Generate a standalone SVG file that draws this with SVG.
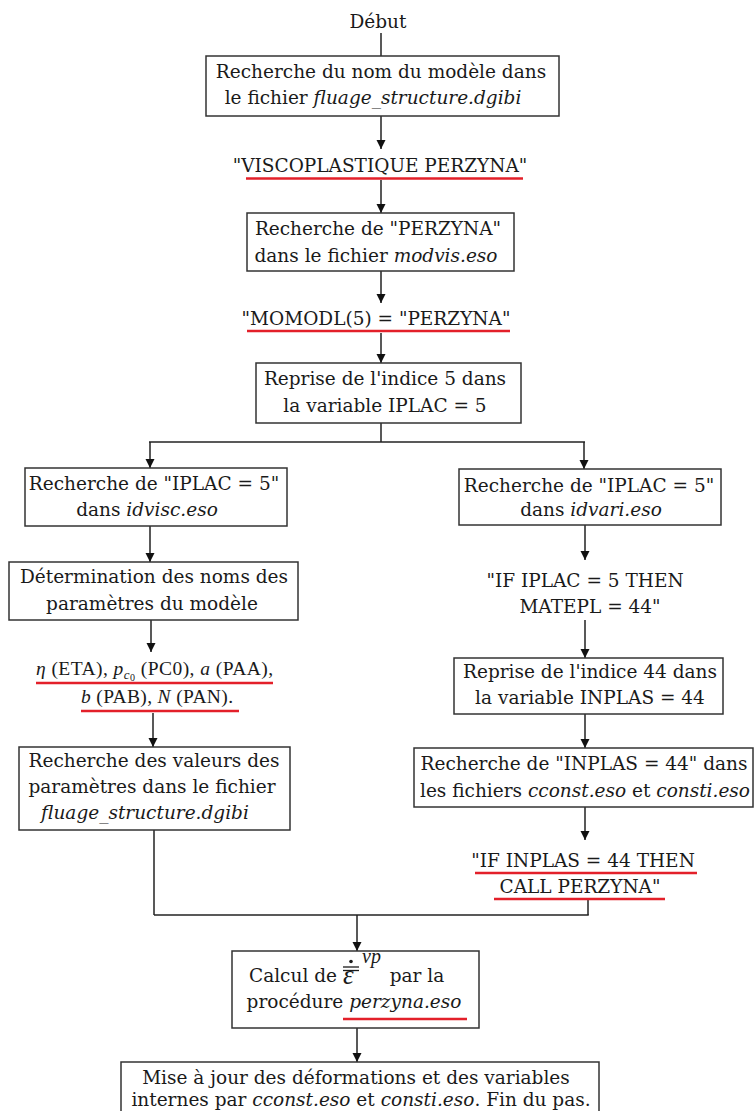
<svg xmlns="http://www.w3.org/2000/svg" width="754" height="1111" viewBox="0 0 754 1111">
<defs>
<marker id="ah" markerUnits="userSpaceOnUse" markerWidth="9" markerHeight="15" refX="9" refY="4.5" orient="auto">
<path d="M0,0 L9,4.5 L0,9 z" fill="#111"/>
</marker>
<style>
.box{fill:#fff;stroke:#333;stroke-width:1.5}
.t{font-family:"DejaVu Serif","Liberation Serif",serif;font-size:18.5px;fill:#1a1a1a;text-anchor:middle}
.i{font-style:italic}
.m{font-family:"Liberation Serif","DejaVu Serif",serif;font-size:19.5px;fill:#1a1a1a}
.c{fill:none;stroke:#222;stroke-width:1.5}
.a{fill:none;stroke:#222;stroke-width:1.5;marker-end:url(#ah)}
.u{stroke:#e3202a;stroke-width:2.5;fill:none}
</style>
</defs>
<rect width="754" height="1111" fill="#fff"/>
<g id="connectors">
<line class="c" x1="381" y1="33" x2="381" y2="56"/>
<line class="a" x1="381" y1="116" x2="381" y2="149"/>
<line class="a" x1="381" y1="180" x2="381" y2="213"/>
<line class="a" x1="381" y1="271" x2="381" y2="303"/>
<line class="a" x1="381" y1="333" x2="381" y2="363"/>
<line class="c" x1="381" y1="423" x2="381" y2="442"/>
<line class="c" x1="149" y1="442" x2="585" y2="442"/>
<line class="a" x1="150" y1="442" x2="150" y2="468"/>
<line class="a" x1="584" y1="442" x2="584" y2="469"/>
<line class="a" x1="150" y1="526" x2="150" y2="562"/>
<line class="a" x1="151" y1="620" x2="151" y2="652"/>
<line class="a" x1="153" y1="713" x2="153" y2="747"/>
<line class="c" x1="154" y1="830" x2="154" y2="915"/>
<line class="a" x1="585" y1="525" x2="585" y2="560"/>
<line class="a" x1="585" y1="620" x2="585" y2="658"/>
<line class="a" x1="585" y1="714" x2="585" y2="748"/>
<line class="a" x1="585" y1="807" x2="585" y2="840"/>
<line class="c" x1="588" y1="900" x2="588" y2="915"/>
<line class="c" x1="154" y1="915" x2="588.75" y2="915"/>
<line class="a" x1="357" y1="915" x2="357" y2="951"/>
<line class="a" x1="357" y1="1028" x2="357" y2="1062"/>
</g>
<g id="debut">
<text class="t" x="378" y="28">Début</text>
</g>
<g id="n1">
<rect class="box" x="206" y="56" width="353" height="60"/>
<text class="t" x="381" y="78">Recherche du nom du modèle dans</text>
<text class="t" x="373" y="104">le fichier <tspan class="i">fluage_structure.dgibi</tspan></text>
</g>
<g id="n2">
<text class="t" x="380" y="172">"VISCOPLASTIQUE PERZYNA"</text>
<line class="u" x1="246" y1="178.5" x2="523" y2="178.5"/>
</g>
<g id="n3">
<rect class="box" x="247" y="213" width="267" height="58"/>
<text class="t" x="378" y="235">Recherche de "PERZYNA"</text>
<text class="t" x="376" y="262">dans le fichier <tspan class="i">modvis.eso</tspan></text>
</g>
<g id="n4">
<text class="t" x="376" y="325">"MOMODL(5) = "PERZYNA"</text>
<line class="u" x1="247" y1="331" x2="510" y2="331"/>
</g>
<g id="n5">
<rect class="box" x="256" y="363" width="265" height="60"/>
<text class="t" x="385" y="385">Reprise de l'indice 5 dans</text>
<text class="t" x="385" y="412">la variable IPLAC = 5</text>
</g>
<g id="l1">
<rect class="box" x="25" y="468" width="262" height="58"/>
<text class="t" x="154" y="490">Recherche de "IPLAC = 5"</text>
<text class="t" x="147" y="516">dans <tspan class="i">idvisc.eso</tspan></text>
</g>
<g id="l2">
<rect class="box" x="9" y="562" width="289" height="58"/>
<text class="t" x="154" y="583">Détermination des noms des</text>
<text class="t" x="152" y="610">paramètres du modèle</text>
</g>
<g id="l3">
<text class="m" x="36" y="675" textLength="237" lengthAdjust="spacing"><tspan class="i">η</tspan> (ETA), <tspan class="i">p</tspan><tspan class="i" font-size="13" dy="4">c</tspan><tspan font-size="10" dy="2">0</tspan><tspan dy="-6"> (PC0), </tspan><tspan class="i">a</tspan> (PAA),</text>
<line class="u" x1="36" y1="683" x2="273" y2="683"/>
<text class="m" x="81" y="703" textLength="152" lengthAdjust="spacing"><tspan class="i">b</tspan> (PAB), <tspan class="i">N</tspan> (PAN).</text>
<line class="u" x1="81" y1="711" x2="239" y2="711"/>
</g>
<g id="l4">
<rect class="box" x="19" y="747" width="271" height="83"/>
<text class="t" x="154" y="767">Recherche des valeurs des</text>
<text class="t" x="152" y="793">paramètres dans le fichier</text>
<text class="t i" x="145" y="819">fluage_structure.dgibi</text>
</g>
<g id="r1">
<rect class="box" x="459" y="469" width="262" height="56"/>
<text class="t" x="589" y="492">Recherche de "IPLAC = 5"</text>
<text class="t" x="591" y="516">dans <tspan class="i">idvari.eso</tspan></text>
</g>
<g id="r2">
<text class="t" x="585" y="587">"IF IPLAC = 5 THEN</text>
<text class="t" x="590" y="613">MATEPL = 44"</text>
</g>
<g id="r3">
<rect class="box" x="454" y="658" width="269" height="56"/>
<text class="t" x="590" y="678">Reprise de l'indice 44 dans</text>
<text class="t" x="590" y="704">la variable INPLAS = 44</text>
</g>
<g id="r4">
<rect class="box" x="414" y="748" width="339" height="59"/>
<text class="t" x="584" y="770">Recherche de "INPLAS = 44" dans</text>
<text class="t" x="585" y="797">les fichiers <tspan class="i">cconst.eso</tspan> et <tspan class="i">consti.eso</tspan></text>
</g>
<g id="r5">
<text class="t" x="583" y="867">"IF INPLAS = 44 THEN</text>
<line class="u" x1="475" y1="873" x2="697" y2="873"/>
<text class="t" x="580" y="893">CALL PERZYNA"</text>
<line class="u" x1="494" y1="899" x2="665" y2="899"/>
</g>
<g id="calcul">
<rect class="box" x="232" y="951" width="247" height="77"/>
<text class="t" x="293" y="982">Calcul de</text>
<text class="m i" x="343" y="984" style="font-size:27px">ε</text>
<line x1="343" y1="967" x2="359" y2="967" stroke="#1a1a1a" stroke-width="1.3"/>
<line x1="343" y1="970.5" x2="359" y2="970.5" stroke="#1a1a1a" stroke-width="1.3"/>
<circle cx="351" cy="961.5" r="1.8" fill="#1a1a1a"/>
<text class="m i" x="362" y="963" style="font-size:20px">vp</text>
<text class="t" x="417" y="982">par la</text>
<text class="t" x="354" y="1008">procédure <tspan class="i">perzyna.eso</tspan></text>
<line class="u" x1="343" y1="1019" x2="467" y2="1019"/>
</g>
<g id="fin">
<rect class="box" x="121" y="1062" width="478" height="62"/>
<text class="t" x="356" y="1084">Mise à jour des déformations et des variables</text>
<text class="t" x="361" y="1106">internes par <tspan class="i">cconst.eso</tspan> et <tspan class="i">consti.eso</tspan>. Fin du pas.</text>
</g>
</svg>
